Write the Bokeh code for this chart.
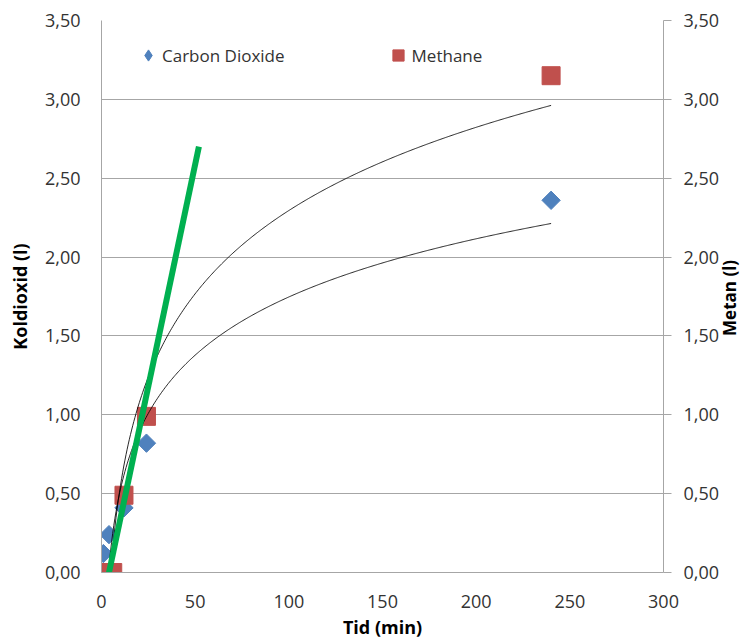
import math
import numpy as np
from bokeh.plotting import figure
from bokeh.models import (Range1d, LinearAxis, FixedTicker, CustomJSTickFormatter,
                          Legend, LegendItem)
from bokeh.embed import file_html
from bokeh.resources import INLINE

# ---- data ----
co2_time = [1, 4, 12, 24, 240]
co2_volume = [0.12, 0.24, 0.41, 0.82, 2.36]
ch4_time = [3, 6, 12, 24, 240]
ch4_volume = [0.0, 0.0, 0.49, 0.99, 3.15]
# sample times used by the logarithmic trend lines
trend_time = [3, 6, 12, 24, 240]
# hand-drawn green line (start / end)
green_time = [4, 52]
green_volume = [0.0, 2.70]

x_ticks = [0, 50, 100, 150, 200, 250, 300]
y_ticks = [0.0, 0.5, 1.0, 1.5, 2.0, 2.5, 3.0, 3.5]

FONT = "Open Sans"
GRID = "#a6a6a6"
TXT = "#333333"

p = figure(width=755, height=641, output_backend="svg", toolbar_location=None,
           x_range=Range1d(0, 300), y_range=Range1d(0, 3.5))
p.min_border_left = 101
p.min_border_right = 92
p.min_border_top = 20
p.min_border_bottom = 68
p.outline_line_color = None
p.background_fill_color = "white"
p.border_fill_color = "white"
p.extra_y_ranges = {"right": Range1d(0, 3.5)}

fmt = CustomJSTickFormatter(code="return tick.toFixed(2).replace('.', ',');")

# x axis
xa = p.xaxis[0]
xa.ticker = FixedTicker(ticks=x_ticks)
xa.axis_label = "Tid (min)"
xa.major_tick_out = 0
xa.major_tick_in = 0
xa.minor_tick_out = 0
xa.minor_tick_in = 0
xa.major_label_standoff = 22
xa.axis_label_standoff = 4

# left axis
ya = p.yaxis[0]
ya.ticker = FixedTicker(ticks=y_ticks)
ya.formatter = fmt
ya.axis_label = "Koldioxid (l)"
ya.major_tick_out = 0
ya.major_tick_in = 0
ya.minor_tick_out = 0
ya.minor_tick_in = 0
ya.major_label_standoff = 21
ya.axis_label_standoff = 10

# right axis (ticks)
ra = LinearAxis(y_range_name="right", ticker=FixedTicker(ticks=y_ticks), formatter=fmt)
ra.major_tick_out = 8
ra.major_tick_in = 0
ra.minor_tick_out = 0
ra.minor_tick_in = 0
ra.major_label_standoff = 12
p.add_layout(ra, "right")

for ax in [xa, ya, ra]:
    ax.axis_line_color = GRID
    ax.major_tick_line_color = GRID
    ax.major_label_text_font = FONT
    ax.major_label_text_font_size = "18px"
    ax.major_label_text_color = TXT
    ax.axis_label_text_font = FONT
    ax.axis_label_text_font_size = "18px"
    ax.axis_label_text_font_style = "bold"
    ax.axis_label_text_color = "black"

# right axis title, reading bottom-to-top like the left one
rt = LinearAxis(y_range_name="right", ticker=FixedTicker(ticks=[1.5]),
                formatter=CustomJSTickFormatter(code="return 'Metan (l)';"))
rt.axis_line_color = None
rt.major_tick_line_color = None
rt.minor_tick_line_color = None
rt.major_tick_out = 0
rt.major_tick_in = 0
rt.minor_tick_out = 0
rt.minor_tick_in = 0
rt.major_label_standoff = 7
rt.major_label_orientation = math.pi / 2
rt.major_label_text_font = FONT
rt.major_label_text_font_size = "17px"
rt.major_label_text_font_style = "bold"
rt.major_label_text_color = "black"
p.add_layout(rt, "right")

p.xgrid.visible = False
p.ygrid.ticker = FixedTicker(ticks=y_ticks)
p.ygrid.grid_line_color = GRID

# markers
co2 = p.scatter(co2_time, co2_volume, marker="square", angle=math.pi / 4, size=13,
                fill_color="#4F81BD", line_color="#4F81BD")
ch4 = p.scatter(ch4_time, ch4_volume, marker="square", size=18,
                fill_color="#C0504D", line_color="#C0504D", y_range_name="right")

# logarithmic trend lines (least squares on ln(t), as in the spreadsheet)
lt = np.log(np.array(trend_time, dtype=float))
tx = np.linspace(trend_time[0], trend_time[-1], 400)
for vals in (co2_volume, ch4_volume):
    a, b = np.polyfit(lt, np.array(vals, dtype=float), 1)
    p.line(tx, a * np.log(tx) + b, line_color="black", line_width=1, line_alpha=0.85)

# green line
p.line(green_time, green_volume, line_color="#00B050", line_width=6)

# legend-only renderers (hidden on the plot, drawn only as legend glyphs)
leg_co2 = p.scatter(co2_time[:1], co2_volume[:1], marker="diamond", size=13,
                    fill_color="#4F81BD", line_color="#4F81BD", visible=False)
leg_ch4 = p.scatter(ch4_time[:1], ch4_volume[:1], marker="square", size=13,
                    fill_color="#C0504D", line_color="#C0504D", visible=False)

legend = Legend(items=[LegendItem(label="Carbon Dioxide", renderers=[leg_co2]),
                       LegendItem(label="Methane", renderers=[leg_ch4])],
                orientation="horizontal", location=(33, 503))
legend.border_line_color = None
legend.background_fill_alpha = 0
legend.label_text_font = FONT
legend.label_text_font_size = "17px"
legend.label_text_color = TXT
legend.glyph_width = 28
legend.glyph_height = 28
legend.label_standoff = 0
legend.spacing = 99
legend.padding = 10
p.add_layout(legend, "center")

open("out.html", "w").write(file_html(p, INLINE))
